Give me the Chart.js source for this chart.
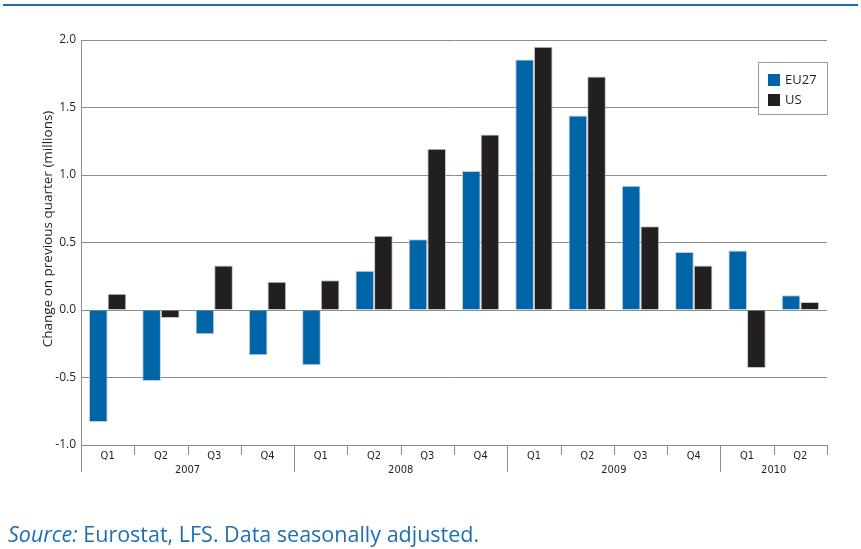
<!DOCTYPE html>
<html>
<head>
<meta charset="utf-8">
<script src="https://cdn.jsdelivr.net/npm/chart.js@4.4.0/dist/chart.umd.min.js"></script>
<style>
  html, body { margin: 0; padding: 0; background: #fff; }
  #wrap { position: relative; width: 861px; height: 549px; }
</style>
</head>
<body>
<div id="wrap"><canvas id="jobsChart" width="861" height="549"></canvas></div>
<script>
const quarters = ['Q1', 'Q2', 'Q3', 'Q4', 'Q1', 'Q2', 'Q3', 'Q4', 'Q1', 'Q2', 'Q3', 'Q4', 'Q1', 'Q2'];
const years = ['2007', '2008', '2009', '2010'];
const quartersPerYear = [4, 4, 4, 2];
const eu27 = [-0.83, -0.525, -0.18, -0.335, -0.41, 0.29, 0.525, 1.03, 1.855, 1.44, 0.92, 0.43, 0.44, 0.11];
const us = [0.12, -0.06, 0.33, 0.21, 0.22, 0.55, 1.195, 1.30, 1.95, 1.73, 0.62, 0.33, -0.43, 0.06];
const yTicks = [-1.0, -0.5, 0.0, 0.5, 1.0, 1.5, 2.0];

const narrow = '"Liberation Sans Narrow", "DejaVu Sans Condensed", sans-serif';
const sans = '"Open Sans", "Noto Sans", sans-serif';
const blue = '#0065a8';
const dark = '#231f20';
const gridGray = '#8c8c8c';

const extras = {
    id: 'extras',
    afterDraw(chart) {
        const c = chart.ctx;
        const area = chart.chartArea;
        const n = quarters.length;
        const step = (area.right - area.left) / n;

        c.save();
        c.strokeStyle = gridGray;
        c.lineWidth = 1;

        // quarter ticks and year separators
        let yearStarts = [0];
        quartersPerYear.reduce((s, k) => { yearStarts.push(s + k); return s + k; }, 0);
        for (let i = 0; i <= n; i++) {
            const px = Math.round(area.left + i * step) + 0.5;
            const isYear = yearStarts.includes(i) && i < n;
            c.beginPath();
            c.moveTo(px, area.bottom);
            c.lineTo(px, area.bottom + (isYear ? 27 : 10));
            c.stroke();
        }

        // year labels
        c.fillStyle = dark;
        c.font = '11px ' + narrow;
        c.textAlign = 'center';
        c.textBaseline = 'middle';
        years.forEach((yr, k) => {
            const a = area.left + yearStarts[k] * step;
            const b = area.left + yearStarts[k + 1] * step;
            c.fillText(yr, (a + b) / 2, area.bottom + 25);
        });

        // y axis title
        c.save();
        c.translate(48, 229);
        c.rotate(-Math.PI / 2);
        c.font = '13.5px ' + sans;
        c.fillStyle = dark;
        c.fillText('Change on previous quarter (millions)', 0, 0);
        c.restore();

        // legend
        c.fillStyle = '#fff';
        c.fillRect(758, 62, 69, 52);
        c.strokeStyle = '#9a9a9a';
        c.strokeRect(758.5, 62.5, 69, 52);
        c.font = '13px ' + sans;
        c.textAlign = 'left';
        chart.data.datasets.forEach((ds, i) => {
            const top = 74 + i * 20;
            c.fillStyle = ds.backgroundColor;
            c.fillRect(768, top, 12, 12);
            c.fillStyle = dark;
            c.fillText(ds.label, 785, top + 6);
        });

        // top rule
        c.strokeStyle = '#1a6db3';
        c.lineWidth = 2;
        c.beginPath();
        c.moveTo(3, 5);
        c.lineTo(858, 5);
        c.stroke();

        // source line
        c.fillStyle = '#1f6fb2';
        c.textBaseline = 'alphabetic';
        c.font = 'italic 21.5px ' + sans;
        c.fillText('Source:', 8, 542);
        const w = c.measureText('Source: ').width;
        c.font = '21.5px ' + sans;
        c.fillText('Eurostat, LFS. Data seasonally adjusted.', 8 + w, 542);
        c.restore();
    }
};

new Chart(document.getElementById('jobsChart').getContext('2d'), {
    type: 'bar',
    data: {
        labels: quarters,
        datasets: [
            {
                label: 'EU27',
                data: eu27,
                backgroundColor: blue,
                borderColor: 'rgba(190, 200, 210, 0.9)',
                borderWidth: 1
            },
            {
                label: 'US',
                data: us,
                backgroundColor: dark,
                borderColor: 'rgba(190, 190, 190, 0.9)',
                borderWidth: 1
            }
        ]
    },
    options: {
        responsive: false,
        animation: false,
        devicePixelRatio: 1,
        layout: {
            padding: { top: 40, right: 34, bottom: 64, left: 0 }
        },
        datasets: {
            bar: {
                categoryPercentage: 0.7,
                barPercentage: 1.0
            }
        },
        plugins: {
            legend: { display: false },
            tooltip: { enabled: false }
        },
        scales: {
            x: {
                afterFit: function(scale) { scale.height = 40; },
                grid: { display: false },
                border: { display: false },
                ticks: {
                    autoSkip: false,
                    maxRotation: 0,
                    padding: -3,
                    color: dark,
                    font: { family: narrow, size: 11 }
                }
            },
            y: {
                min: -1,
                max: 2,
                afterFit: function(scale) { scale.width = 81; },
                afterBuildTicks: function(scale) {
                    scale.ticks = yTicks.map(v => ({ value: v }));
                },
                grid: {
                    color: gridGray,
                    lineWidth: 1,
                    drawTicks: false
                },
                border: { display: true, color: gridGray },
                ticks: {
                    padding: 5,
                    color: dark,
                    font: { family: sans, size: 12 },
                    callback: function(value) { return value.toFixed(1); }
                }
            }
        }
    },
    plugins: [extras]
});
</script>
</body>
</html>
